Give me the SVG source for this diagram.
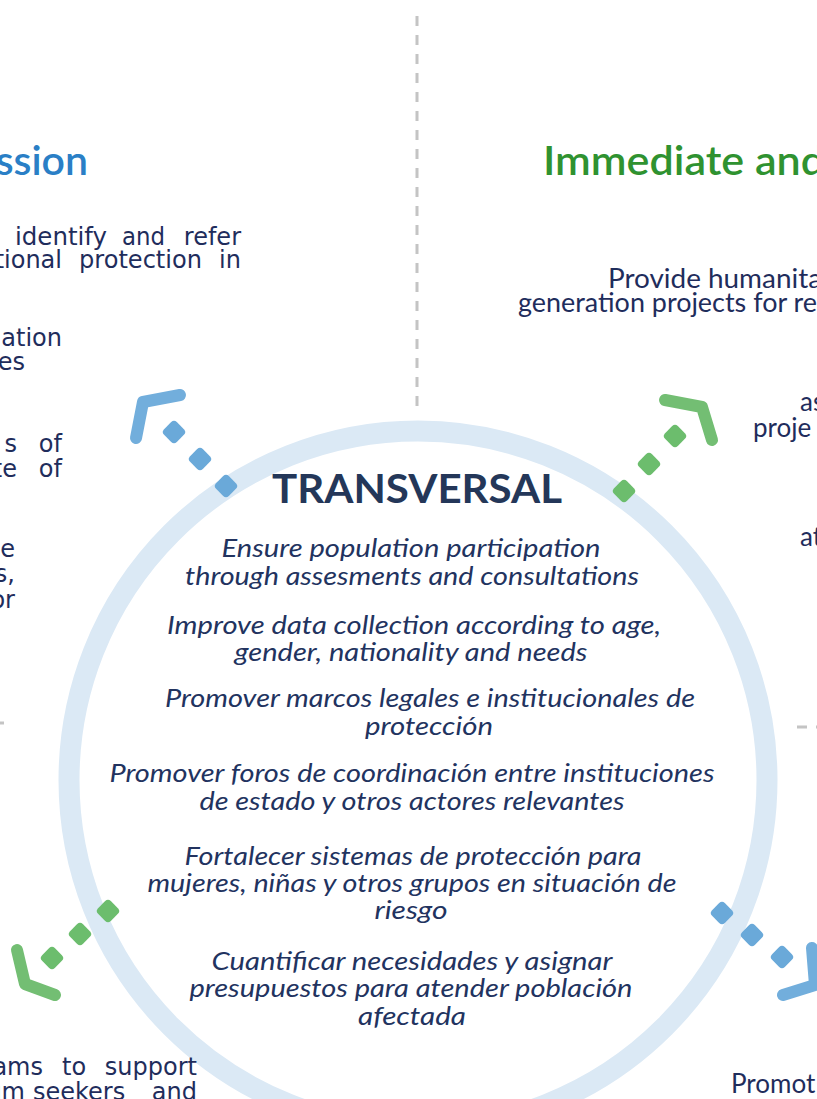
<svg xmlns="http://www.w3.org/2000/svg" width="817" height="1099" viewBox="0 0 817 1099">
<defs>
<style>
.bg{fill:#ffffff}
.sep{stroke:#c4c4c4;stroke-width:3;stroke-dasharray:10 9;fill:none}
.ring{fill:none;stroke:#dbe9f5;stroke-width:21}
.body{font-family:"DejaVu Sans","Noto Sans",sans-serif;font-size:24px;fill:#1f2d5c}
.rbody{font-family:Lato,"Noto Sans",sans-serif;font-size:26px;fill:#1f2d5c}
.h-blue{font-family:Lato,sans-serif;font-size:41px;fill:#2a7fc6;font-weight:600}
.h-green{font-family:Lato,sans-serif;font-size:41px;fill:#2f9230;font-weight:600}
.title{font-family:Lato,sans-serif;font-size:40px;font-weight:700;fill:#243759;text-anchor:middle}
.it{font-family:Lato,sans-serif;font-size:26px;font-style:italic;fill:#22335f;text-anchor:middle}
.blue-dot{fill:#6aa9d9}
.green-dot{fill:#6cbd6d}
.blue-head{fill:none;stroke:#72aedc;stroke-width:12;stroke-linecap:round;stroke-linejoin:round}
.green-head{fill:none;stroke:#73be73;stroke-width:12;stroke-linecap:round;stroke-linejoin:round}
</style>
</defs>
<rect class="bg" x="0" y="0" width="817" height="1099"/>
<g id="separators">
<line class="sep" x1="417" y1="16" x2="417" y2="412"/>
<line class="sep" x1="0" y1="723" x2="4" y2="723"/>
<line class="sep" x1="797" y1="727" x2="817" y2="727"/>
</g>
<g id="ring">
<circle class="ring" cx="418" cy="780" r="349"/>
</g>
<g id="connectors">
<g id="arrow-top-left">
<rect class="blue-dot" x="-9" y="-9" width="18" height="18" rx="4" transform="translate(226,486) rotate(45)"/>
<rect class="blue-dot" x="-9" y="-9" width="18" height="18" rx="4" transform="translate(200,459) rotate(45)"/>
<rect class="blue-dot" x="-9" y="-9" width="18" height="18" rx="4" transform="translate(174,432) rotate(45)"/>
<path class="blue-head" d="M136,438 L143,402 L180,395"/>
</g>
<g id="arrow-top-right">
<rect class="green-dot" x="-9" y="-9" width="18" height="18" rx="4" transform="translate(624,491) rotate(45)"/>
<rect class="green-dot" x="-9" y="-9" width="18" height="18" rx="4" transform="translate(649,464) rotate(45)"/>
<rect class="green-dot" x="-9" y="-9" width="18" height="18" rx="4" transform="translate(675,436) rotate(45)"/>
<path class="green-head" d="M665,400 L702,407 L712,440"/>
</g>
<g id="arrow-bottom-left">
<rect class="green-dot" x="-9" y="-9" width="18" height="18" rx="4" transform="translate(108,911) rotate(45)"/>
<rect class="green-dot" x="-9" y="-9" width="18" height="18" rx="4" transform="translate(80,934) rotate(45)"/>
<rect class="green-dot" x="-9" y="-9" width="18" height="18" rx="4" transform="translate(52,958) rotate(45)"/>
<path class="green-head" d="M17,950 L25,984 L55,995"/>
</g>
<g id="arrow-bottom-right">
<rect class="blue-dot" x="-9" y="-9" width="18" height="18" rx="4" transform="translate(722,913) rotate(45)"/>
<rect class="blue-dot" x="-9" y="-9" width="18" height="18" rx="4" transform="translate(752,935) rotate(45)"/>
<rect class="blue-dot" x="-9" y="-9" width="18" height="18" rx="4" transform="translate(782,957) rotate(45)"/>
<path class="blue-head" d="M783,995 L815,985 L812,948"/>
</g>
</g>
<g id="node-left">
<text class="h-blue" x="88" y="175" text-anchor="end">ssion</text>
<text class="body" x="15" y="245" textLength="92" lengthAdjust="spacingAndGlyphs">identify</text>
<text class="body" x="122" y="245" textLength="43" lengthAdjust="spacingAndGlyphs">and</text>
<text class="body" x="241" y="245" text-anchor="end">refer</text>
<text class="body" x="62" y="268" text-anchor="end">tional</text>
<text class="body" x="79" y="268" textLength="123" lengthAdjust="spacingAndGlyphs">protection</text>
<text class="body" x="241" y="268" text-anchor="end">in</text>
<text class="body" x="62" y="346" text-anchor="end">ation</text>
<text class="body" x="25" y="370" text-anchor="end">es</text>
<text class="body" x="17" y="452" text-anchor="end">s</text>
<text class="body" x="62" y="452" text-anchor="end">of</text>
<text class="body" x="17" y="477" text-anchor="end">te</text>
<text class="body" x="62" y="477" text-anchor="end">of</text>
<text class="body" x="15" y="557" text-anchor="end">e</text>
<text class="body" x="15" y="582" text-anchor="end">s,</text>
<text class="body" x="15" y="608" text-anchor="end">or</text>
</g>
<g id="node-bottom-left">
<text class="body" x="43" y="1075" text-anchor="end">ams</text>
<text class="body" x="62" y="1075">to</text>
<text class="body" x="197" y="1075" text-anchor="end">support</text>
<text class="body" x="25" y="1100" text-anchor="end">lum</text>
<text class="body" x="33" y="1100">seekers</text>
<text class="body" x="197" y="1100" text-anchor="end">and</text>
</g>
<g id="node-right">
<text class="h-green" x="543" y="175" textLength="282" lengthAdjust="spacingAndGlyphs">Immediate and</text>
<text class="rbody" x="608" y="288" textLength="214" lengthAdjust="spacingAndGlyphs">Provide humanita</text>
<text class="rbody" x="518" y="312" textLength="299" lengthAdjust="spacingAndGlyphs">generation projects for re</text>
<text class="rbody" x="800" y="411">as</text>
<text class="rbody" x="753" y="437">proje</text>
<text class="rbody" x="800" y="546">at</text>
</g>
<g id="node-bottom-right">
<text class="rbody" x="731" y="1093">Promot</text>
</g>
<g id="node-center">
<text class="title" x="417" y="503" textLength="290" lengthAdjust="spacingAndGlyphs">TRANSVERSAL</text>
<text class="it" x="411" y="557" textLength="379" lengthAdjust="spacingAndGlyphs">Ensure population participation</text>
<text class="it" x="412" y="585" textLength="454" lengthAdjust="spacingAndGlyphs">through assesments and consultations</text>
<text class="it" x="414" y="634" textLength="494" lengthAdjust="spacingAndGlyphs">Improve data collection according to age,</text>
<text class="it" x="411" y="661" textLength="353" lengthAdjust="spacingAndGlyphs">gender, nationality and needs</text>
<text class="it" x="430" y="707" textLength="530" lengthAdjust="spacingAndGlyphs">Promover marcos legales e institucionales de</text>
<text class="it" x="429" y="735" textLength="128" lengthAdjust="spacingAndGlyphs">protección</text>
<text class="it" x="412" y="782" textLength="605" lengthAdjust="spacingAndGlyphs">Promover foros de coordinación entre instituciones</text>
<text class="it" x="412" y="810" textLength="425" lengthAdjust="spacingAndGlyphs">de estado y otros actores relevantes</text>
<text class="it" x="413" y="865" textLength="457" lengthAdjust="spacingAndGlyphs">Fortalecer sistemas de protección para</text>
<text class="it" x="412" y="892" textLength="529" lengthAdjust="spacingAndGlyphs">mujeres, niñas y otros grupos en situación de</text>
<text class="it" x="411" y="919" textLength="73" lengthAdjust="spacingAndGlyphs">riesgo</text>
<text class="it" x="412" y="970" textLength="401" lengthAdjust="spacingAndGlyphs">Cuantificar necesidades y asignar</text>
<text class="it" x="411" y="997" textLength="443" lengthAdjust="spacingAndGlyphs">presupuestos para atender población</text>
<text class="it" x="412" y="1025" textLength="108" lengthAdjust="spacingAndGlyphs">afectada</text>
</g>
</svg>
